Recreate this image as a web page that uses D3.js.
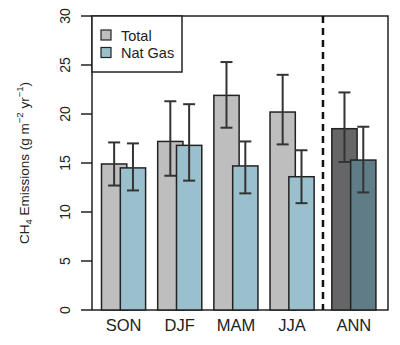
<!DOCTYPE html>
<html><head><meta charset="utf-8">
<script src="https://cdn.jsdelivr.net/npm/d3@7"></script>
<style>body{margin:0;background:#fff}svg{display:block;font-family:"Liberation Sans",Arial,sans-serif}</style>
</head><body><svg id="c" width="400" height="345"></svg>
<script>
const categories = ["SON","DJF","MAM","JJA","ANN"];
const totalVals = [14.9, 17.2, 21.9, 20.2, 18.5];
const totalLo   = [12.7, 13.7, 18.6, 16.9, 15.1];
const totalHi   = [17.1, 21.3, 25.3, 24.0, 22.2];
const gasVals   = [14.5, 16.8, 14.7, 13.6, 15.3];
const gasLo     = [12.2, 13.2, 11.9, 10.9, 12.0];
const gasHi     = [17.0, 21.0, 17.2, 16.3, 18.7];
const yTicks = [0,5,10,15,20,25,30];
const seriesNames = ["Total","Nat Gas"];

const svg = d3.select("#c");
const L=92, R=388, T=16, B=310;
const y = d3.scaleLinear().domain([0,30]).range([B,T]);
// group slot positions (ANN separated by a gap)
const slot = i => i + (i===4 ? 0.1 : 0);
const x = d3.scaleLinear().domain([0, 5.1]).range([101.5, 388]);
const slotW = x(1)-x(0);
const barW = slotW*0.45, off = slotW*0.335;
const colTot = i => i===4 ? "#666666" : "#bebebe";
const colGas = i => i===4 ? "#5f7c87" : "#9ac0cd";

// box
svg.append("rect").attr("x",L).attr("y",T).attr("width",R-L).attr("height",B-T)
  .attr("fill","none").attr("stroke","#222").attr("stroke-width",1.5);

// y axis
const ya = svg.append("g").attr("transform",`translate(${L-11},0)`);
ya.selectAll("line.t").data(yTicks).join("line")
  .attr("x1",0).attr("x2",11).attr("y1",d=>y(d)).attr("y2",d=>y(d)).attr("stroke","#222").attr("stroke-width",1.5);
ya.selectAll("text").data(yTicks).join("text")
  .attr("transform",d=>`translate(-11.5,${y(d)}) rotate(-90)`)
  .attr("text-anchor","middle").attr("font-size",14).attr("fill","#222").text(d=>d);

// y title
const yt = svg.append("text").attr("transform",`translate(29,${(T+B)/2}) rotate(-90)`)
  .attr("text-anchor","middle").attr("font-size",13.5).attr("fill","#222");
yt.append("tspan").text("CH");
yt.append("tspan").attr("font-size",9.5).attr("dy",3).text("4");
yt.append("tspan").attr("dy",-3).text(" Emissions (g m");
yt.append("tspan").attr("font-size",9.5).attr("dy",-6).text("−2");
yt.append("tspan").attr("dy",6).text(" yr");
yt.append("tspan").attr("font-size",9.5).attr("dy",-6).text("−1");
yt.append("tspan").attr("dy",6).text(")");

function errBar(cx, lo, hi){
  const g = svg.append("g").attr("stroke","#333").attr("stroke-width",2);
  g.append("line").attr("x1",cx).attr("x2",cx).attr("y1",y(lo)).attr("y2",y(hi));
  g.append("line").attr("x1",cx-6).attr("x2",cx+6).attr("y1",y(lo)).attr("y2",y(lo));
  g.append("line").attr("x1",cx-6).attr("x2",cx+6).attr("y1",y(hi)).attr("y2",y(hi));
}

categories.forEach((c,i)=>{
  const x0 = x(slot(i));
  svg.append("rect").attr("x",x0).attr("y",y(totalVals[i])).attr("width",barW)
    .attr("height",y(0)-y(totalVals[i])).attr("fill",colTot(i)).attr("stroke","#222").attr("stroke-width",1.5);
  errBar(x0+barW/2, totalLo[i], totalHi[i]);
  const x1 = x0+off;
  svg.append("rect").attr("x",x1).attr("y",y(gasVals[i])).attr("width",barW)
    .attr("height",y(0)-y(gasVals[i])).attr("fill",colGas(i)).attr("stroke","#222").attr("stroke-width",1.5);
  errBar(x1+barW/2, gasLo[i], gasHi[i]);
  svg.append("text").attr("x",(x0+x1+barW)/2).attr("y",331).attr("text-anchor","middle")
    .attr("font-size",16.5).attr("fill","#222").text(c);
});

// dashed separator
const sepX = (x(slot(3))+off+barW + x(slot(4)))/2;
svg.append("line").attr("x1",sepX).attr("x2",sepX).attr("y1",T).attr("y2",B)
  .attr("stroke","#111").attr("stroke-width",2.5).attr("stroke-dasharray","7,5");

// legend
svg.append("rect").attr("x",L).attr("y",T).attr("width",90).attr("height",56)
  .attr("fill","#fff").attr("stroke","#222").attr("stroke-width",1.5);
seriesNames.forEach((n,k)=>{
  svg.append("rect").attr("x",101).attr("y",30+k*17.5).attr("width",10).attr("height",10)
    .attr("fill",k===0?"#bebebe":"#9ac0cd").attr("stroke","#222").attr("stroke-width",1.2);
  svg.append("text").attr("x",121).attr("y",40.5+k*17.5).attr("font-size",14.5).attr("fill","#222").text(n);
});
</script></body></html>
